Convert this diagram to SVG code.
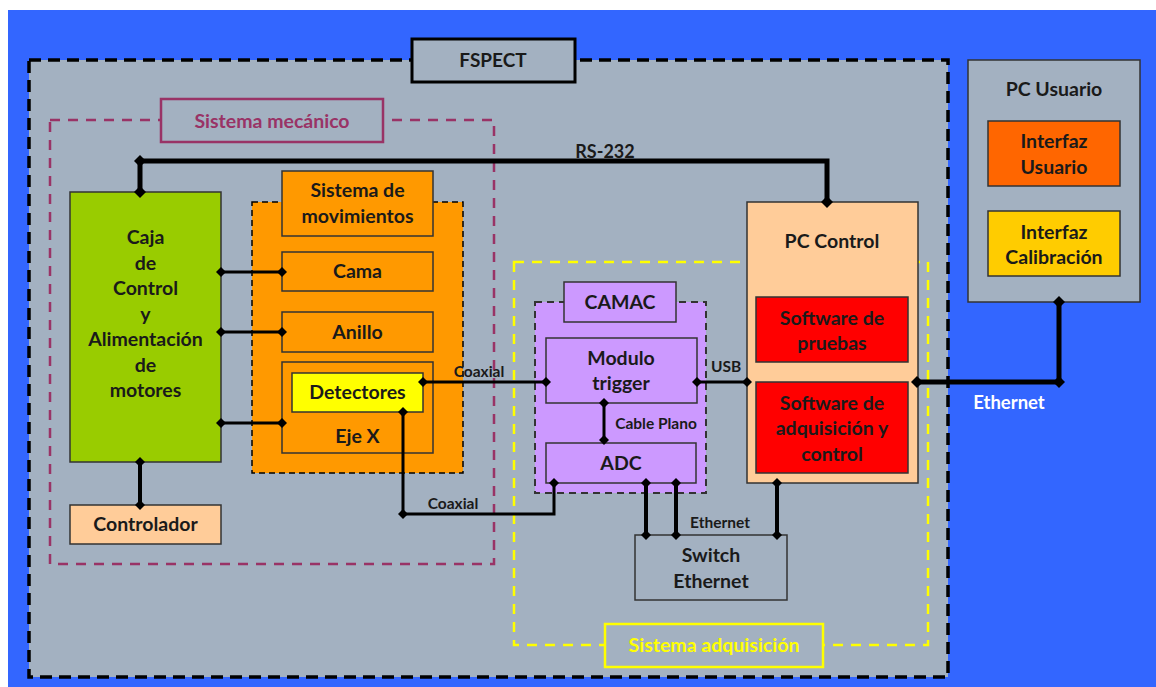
<svg xmlns="http://www.w3.org/2000/svg" width="1156" height="687" viewBox="0 0 1156 687">
<defs>
<style>
text{font-family:Lato,"Open Sans","Liberation Sans",sans-serif;font-weight:bold;text-anchor:middle;fill:#1a1a1a}
.t{font-size:19.5px}
.s{font-size:15.5px}
.box{stroke:#333;stroke-width:1.5}
.ln{fill:none;stroke:#000;stroke-linejoin:miter}
</style>
<marker id="d" viewBox="-6 -6 12 12" markerWidth="12" markerHeight="12" markerUnits="userSpaceOnUse" refX="0" refY="0" orient="auto">
<path d="M-6 0L0-6L6 0L0 6Z" fill="#000"/>
</marker>
<marker id="ds" viewBox="-5 -5 10 10" markerWidth="10" markerHeight="10" markerUnits="userSpaceOnUse" refX="0" refY="0" orient="auto">
<path d="M-5 0L0-5L5 0L0 5Z" fill="#000"/>
</marker>
</defs>
<rect x="0" y="0" width="1156" height="687" fill="#fff"/>
<rect x="8" y="10" width="1148" height="677" fill="#3366FF"/>

<g id="fspect">
<rect x="29" y="60" width="919" height="617" fill="#A3B1C1" stroke="#000" stroke-width="3.5" stroke-dasharray="12 7"/>
<rect x="412" y="39" width="163" height="43" fill="#A3B1C1" stroke="#000" stroke-width="3"/>
<text x="493" y="67" style="font-size:19px">FSPECT</text>
</g>

<g id="pc-usuario">
<rect x="968" y="60" width="172" height="242" fill="#A3B1C1" stroke="#333" stroke-width="1.5"/>
<text class="t" x="1054" y="96">PC Usuario</text>
</g>
<g id="interfaz-usuario">
<rect class="box" x="988" y="121" width="132" height="65" fill="#FF6600"/>
<text class="t" x="1054" y="148">Interfaz</text>
<text class="t" x="1054" y="174">Usuario</text>
</g>
<g id="interfaz-calibracion">
<rect class="box" x="988" y="211" width="132" height="65" fill="#FFCC00"/>
<text class="t" x="1054" y="239">Interfaz</text>
<text class="t" x="1054" y="264">Calibración</text>
</g>

<g id="sistema-mecanico">
<rect x="50" y="120" width="444" height="444" fill="none" stroke="#993366" stroke-width="2.5" stroke-dasharray="10 8"/>
<rect x="161" y="99" width="222" height="43" fill="#A3B1C1" stroke="#993366" stroke-width="2.5"/>
<text x="272" y="128" style="font-size:19.5px;fill:#993366">Sistema mecánico</text>
</g>

<g id="sistema-adquisicion">
<rect x="514" y="262" width="414" height="383" fill="none" stroke="#FFFF00" stroke-width="2.5" stroke-dasharray="10 8"/>
<rect x="605" y="624" width="218" height="43" fill="#A3B1C1" stroke="#FFFF00" stroke-width="2.5"/>
<text x="714" y="652" style="font-size:19.5px;fill:#FFFF00">Sistema adquisición</text>
</g>

<g id="caja">
<rect class="box" x="70" y="192" width="151" height="270" fill="#99CC00"/>
<text class="t" x="145.5" y="244">Caja</text>
<text class="t" x="145.5" y="269.5">de</text>
<text class="t" x="145.5" y="295">Control</text>
<text class="t" x="145.5" y="320.5">y</text>
<text class="t" x="145.5" y="346">Alimentación</text>
<text class="t" x="145.5" y="371.5">de</text>
<text class="t" x="145.5" y="397">motores</text>
</g>
<g id="controlador">
<rect class="box" x="70" y="505" width="151" height="39" fill="#FFCC99"/>
<text class="t" x="145.5" y="531">Controlador</text>
</g>

<g id="movimientos-grupo">
<rect x="252" y="202" width="211" height="271" fill="#FF9900" stroke="#000" stroke-width="1.5" stroke-dasharray="6 4"/>
</g>
<g id="sistema-movimientos">
<rect class="box" x="282" y="171" width="151" height="65" fill="#FF9900"/>
<text class="t" x="357.5" y="197">Sistema de</text>
<text class="t" x="357.5" y="223">movimientos</text>
</g>
<g id="cama">
<rect class="box" x="282" y="252" width="151" height="39" fill="#FF9900"/>
<text class="t" x="357.5" y="278">Cama</text>
</g>
<g id="anillo">
<rect class="box" x="282" y="312" width="151" height="40" fill="#FF9900"/>
<text class="t" x="357.5" y="339">Anillo</text>
</g>
<g id="eje-x">
<rect class="box" x="282" y="362" width="151" height="91" fill="#FF9900"/>
<text class="t" x="357.5" y="443">Eje X</text>
</g>
<g id="detectores">
<rect class="box" x="292" y="373" width="131" height="39" fill="#FFFF00"/>
<text class="t" x="357.5" y="399">Detectores</text>
</g>

<g id="camac-grupo">
<rect x="535" y="302" width="171" height="191" fill="#CC99FF" stroke="#333" stroke-width="2" stroke-dasharray="7 5"/>
</g>
<g id="camac">
<rect class="box" x="564" y="282" width="112" height="40" fill="#CC99FF"/>
<text class="t" x="620" y="309">CAMAC</text>
</g>
<g id="modulo-trigger">
<rect class="box" x="546" y="338" width="151" height="65" fill="#CC99FF"/>
<text class="t" x="621" y="365">Modulo</text>
<text class="t" x="621" y="390">trigger</text>
</g>
<g id="adc">
<rect class="box" x="546" y="443" width="150" height="40" fill="#CC99FF"/>
<text class="t" x="621" y="470">ADC</text>
</g>

<g id="pc-control">
<rect class="box" x="747" y="202" width="171" height="281" fill="#FFCC99"/>
<text class="t" x="832" y="248">PC Control</text>
</g>
<g id="software-pruebas">
<rect class="box" x="756" y="297" width="152" height="65" fill="#FF0000"/>
<text class="t" x="832" y="325">Software de</text>
<text class="t" x="832" y="350">pruebas</text>
</g>
<g id="software-adquisicion">
<rect class="box" x="756" y="382" width="152" height="91" fill="#FF0000"/>
<text class="t" x="832" y="410">Software de</text>
<text class="t" x="832" y="435">adquisición y</text>
<text class="t" x="832" y="461">control</text>
</g>

<g id="switch">
<rect class="box" x="635" y="535" width="152" height="65" fill="#A3B1C1"/>
<text class="t" x="711" y="562">Switch</text>
<text class="t" x="711" y="588">Ethernet</text>
</g>

<g id="connectors">
<polyline class="ln" stroke-width="5" points="140,192 140,161 827,161 827,202" marker-start="url(#d)" marker-end="url(#d)"/>
<path d="M140 161h0M827 161h0" class="ln" stroke-width="5" marker-start="url(#d)"/>
<polyline class="ln" stroke-width="5" points="917,382 1059,382 1059,302" marker-start="url(#d)" marker-end="url(#d)"/>
<path d="M1059 382h0" class="ln" stroke-width="5" marker-start="url(#d)"/>
<line class="ln" stroke-width="4" x1="140" y1="462" x2="140" y2="505" marker-start="url(#ds)" marker-end="url(#ds)"/>
<line class="ln" stroke-width="3" x1="221" y1="272" x2="282" y2="272" marker-start="url(#ds)" marker-end="url(#ds)"/>
<line class="ln" stroke-width="3" x1="221" y1="332" x2="282" y2="332" marker-start="url(#ds)" marker-end="url(#ds)"/>
<line class="ln" stroke-width="3" x1="221" y1="423" x2="282" y2="423" marker-start="url(#ds)" marker-end="url(#ds)"/>
<line class="ln" stroke-width="3" x1="423" y1="382" x2="546" y2="382" marker-start="url(#ds)" marker-end="url(#ds)"/>
<polyline class="ln" stroke-width="3" points="403,412 403,514 554,514 554,483" marker-start="url(#ds)" marker-end="url(#ds)"/>
<path d="M403 514h0M554 514h0" class="ln" stroke-width="3" marker-start="url(#ds)"/>
<line class="ln" stroke-width="3" x1="697" y1="382" x2="747" y2="382" marker-start="url(#ds)" marker-end="url(#ds)"/>
<line class="ln" stroke-width="3" x1="604" y1="403" x2="604" y2="440" marker-start="url(#ds)" marker-end="url(#ds)"/>
<line class="ln" stroke-width="4" x1="646" y1="483" x2="646" y2="535" marker-start="url(#ds)" marker-end="url(#ds)"/>
<line class="ln" stroke-width="4" x1="676" y1="483" x2="676" y2="535" marker-start="url(#ds)" marker-end="url(#ds)"/>
<line class="ln" stroke-width="4" x1="777" y1="483" x2="777" y2="535" marker-start="url(#ds)" marker-end="url(#ds)"/>
<text x="605" y="158" style="font-size:18px">RS-232</text>
<text x="1009" y="409" style="font-size:18.5px;fill:#fff">Ethernet</text>
<text class="s" x="479" y="377">Coaxial</text>
<text class="s" x="453" y="509">Coaxial</text>
<text class="s" x="726" y="372">USB</text>
<text class="s" x="656" y="429">Cable Plano</text>
<text class="s" x="720" y="528">Ethernet</text>
</g>
</svg>
